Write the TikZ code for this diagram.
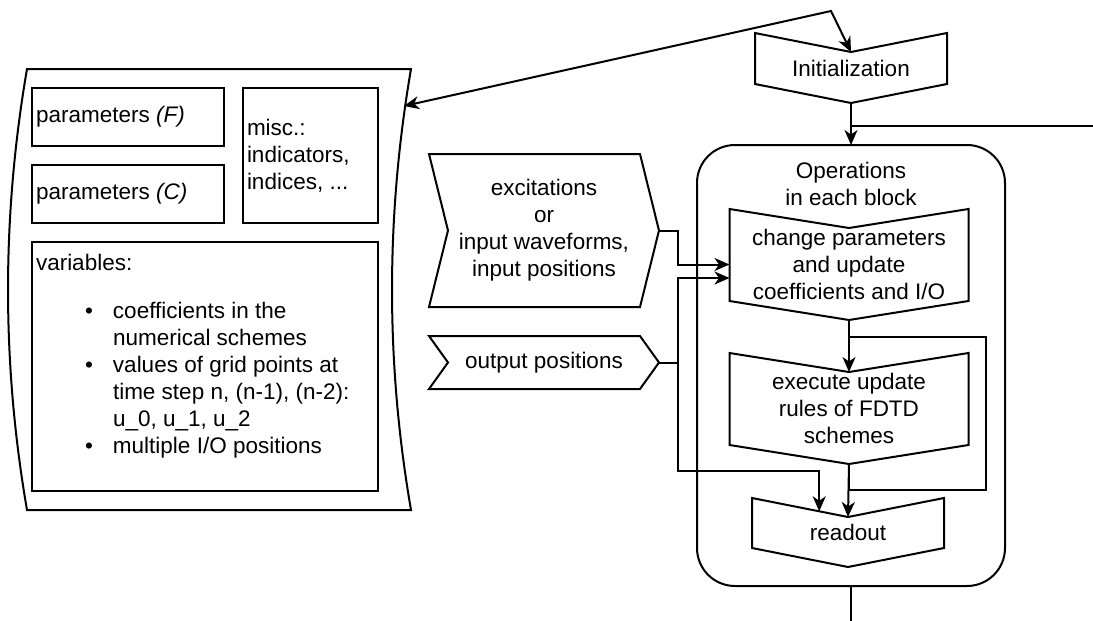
\documentclass[tikz,border=0pt]{standalone}
\usepackage{fontspec}
\setmainfont{Liberation Sans}
\usetikzlibrary{arrows.meta,calc}
\newcommand{\downstepshape}[2]{\draw (#1.north west) -- ([yshift=-#2]#1.north) -- (#1.north east) -- ([yshift=#2]#1.south east) -- (#1.south) -- ([yshift=#2]#1.south west) -- cycle;}
\newcommand{\rightstepshape}[2]{\draw (#1.north west) -- ([xshift=-#2]#1.north east) -- (#1.east) -- ([xshift=-#2]#1.south east) -- (#1.south west) -- ([xshift=#2]#1.west) -- cycle;}
\begin{document}
\begin{tikzpicture}[x=1pt,y=-1pt,
  line width=2pt, line join=miter,
  every node/.style={font=\fontsize{22.5}{27}\selectfont, inner sep=0pt, outer sep=0pt},
  box/.style={draw, rectangle},
  hold/.style={rectangle, align=center},
  arr/.style={-{Stealth[length=15pt,width=13pt,inset=4.5pt]}},
  biarr/.style={{Stealth[length=15pt,width=13pt,inset=4.5pt]}-{Stealth[length=15pt,width=13pt,inset=4.5pt]}},
  lbl/.style={align=left, anchor=west}]

\fill[white] (0,0) rectangle (1093,621);
\useasboundingbox (0,0) rectangle (1093,621);

% storage shape
\draw (27,69) -- (411,69) .. controls (385.7,216.3) and (385.7,363.3) .. (411,510)
      -- (27,510) .. controls (1.7,363.3) and (1.7,216.3) .. (27,69) -- cycle;
\coordinate (storR) at (404,106);

% inner boxes
\node[box, minimum width=192pt, minimum height=58pt] (pF) at (128,117) {};
\node[lbl] (pFt) at (36,117) {parameters \textit{(F)}};
\node[box, minimum width=192pt, minimum height=58pt] (pC) at (128,194) {};
\node[lbl] (pCt) at (36,194) {parameters \textit{(C)}};
\node[box, minimum width=135pt, minimum height=135pt] (misc) at (310.5,155.5) {};
\node[lbl] (misct) at (247,155.5) {misc.:\\indicators,\\indices, ...};
\node[box, minimum width=346pt, minimum height=249pt] (vars) at (205,366.5) {};
\node[lbl] (varst) at (36,262) {variables:};
\node[lbl] (varlist) at (85,380.5) {\makebox[28pt][l]{•}coefficients in the\\
\hspace*{28pt}numerical schemes\\
\makebox[28pt][l]{•}values of grid points at\\
\hspace*{28pt}time step n, (n-1), (n-2):\\
\hspace*{28pt}u\_0, u\_1, u\_2\\
\makebox[28pt][l]{•}multiple I/O positions};

% initialization
\node[hold, minimum width=192pt, minimum height=70pt] (init) at (851,68) {Initialization};
\downstepshape{init}{19pt}
\coordinate (apex) at (831,11);
\draw[biarr] (storR) -- (apex) -- ([yshift=-19pt]init.north);

% operations block
\node[draw, rounded corners=38pt, minimum width=308pt, minimum height=441pt] (ops) at (851,365.5) {};
\node[hold] (opslbl) at (851,183.5) {Operations\\in each block};
\draw[arr] (init.south) -- (ops.north);
\coordinate (rin) at (1093,126);
\draw (rin) -- (rin -| init.south);
\coordinate (rout) at (851,621);
\draw (ops.south) -- (rout);

% inner steps
\node[hold, minimum width=239pt, minimum height=111pt] (cp) at (849,264.5) {change parameters\\and update\\coefficients and I/O};
\downstepshape{cp}{19pt}
\node[hold, minimum width=239pt, minimum height=111pt] (exec) at (849,408.5) {execute update\\rules of FDTD\\schemes};
\downstepshape{exec}{19pt}
\node[hold, minimum width=192pt, minimum height=69pt] (rd) at (848,532.5) {readout};
\downstepshape{rd}{19pt}

\draw[arr] (cp.south) -- ([yshift=-19pt]exec.north);
\coordinate (lpA) at (986,490);
\coordinate (lpB) at (986,337);
\draw (exec.south) |- (lpA) -- (lpB) -- (lpB -| cp.south);
\draw[arr] (exec.south) -- ([yshift=-19pt]rd.north);

% inputs
\node[hold, minimum width=230pt, minimum height=153pt] (exc) at (544,230.5) {excitations\\or\\input waveforms,\\input positions};
\rightstepshape{exc}{19pt}
\node[hold, minimum width=230pt, minimum height=53pt] (outp) at (544,362.5) {output positions};
\rightstepshape{outp}{19pt}

\coordinate (rdin) at ($(rd.north west)!0.7!([yshift=-19pt]rd.north)$);
\draw[arr] (exc.east) -- ++(19,0) |- (cp.west);
\draw[arr] (outp.east) -- ++(19,0) |- ([yshift=-13.5pt]cp.west);
\draw[arr] (outp.east) -- ++(19,0) |- ([yshift=40pt]rdin) -- (rdin);
\end{tikzpicture}
\end{document}
